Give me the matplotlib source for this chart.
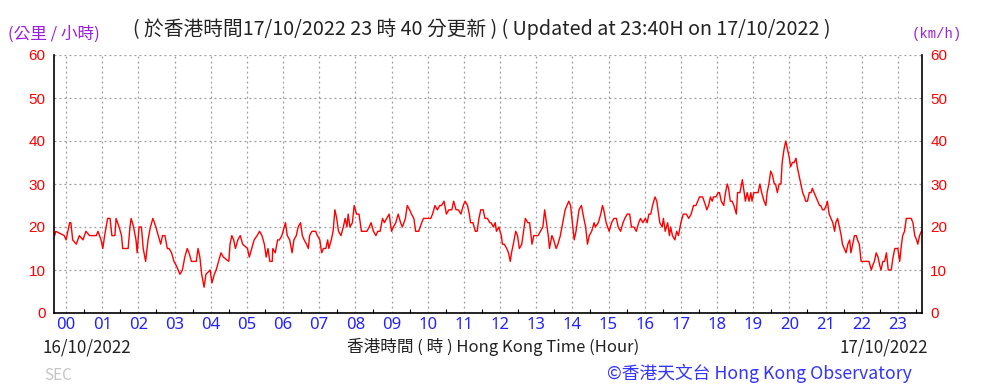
import matplotlib
matplotlib.use("Agg")
import numpy as np
import matplotlib.pyplot as plt
from matplotlib.ticker import MultipleLocator

# 10-min mean wind speed, minutes after 00:00 16/10/2022 (negative = 15/10)
minutes = [
    -20, -19, -17, -3, 0, 6, 8, 11, 17, 22, 28, 33, 39, 50, 53, 58, 61, 64, 69, 73,
    76, 81, 83, 88, 92, 94, 103, 106, 108, 112, 116, 118, 121, 125, 128, 132, 136, 140, 144, 149,
    153, 157, 160, 164, 168, 171, 175, 179, 183, 189, 193, 197, 201, 204, 208, 216, 219, 222, 225, 229,
    232, 239, 242, 246, 249, 253, 257, 261, 270, 272, 275, 278, 281, 285, 289, 293, 301, 304, 308, 312,
    317, 321, 325,
    329, 332, 335, 338, 342, 343, 347, 351, 354, 358, 362, 364, 367, 371, 375, 378, 382, 385, 389, 392,
    395, 399, 402, 404, 408, 414, 417, 421, 424, 427, 431, 434, 436, 440, 443, 446, 449, 452, 456, 460,
    463, 466, 468, 471, 475, 478, 482, 486, 490, 493, 499, 503, 506, 510, 514, 517, 521, 525, 528, 532,
    536, 540, 543, 547, 551, 555, 558, 563, 566, 570, 573, 577, 580, 585, 590, 593, 597, 605, 608, 612,
    616, 620, 623, 627, 631, 635, 640, 643, 647, 651, 655, 659, 662, 666, 669, 671, 675, 679, 682, 685,
    688, 692, 695, 699, 703,
    705, 709, 712, 714, 718, 722, 724, 727, 731, 734, 737, 739, 742, 746, 749, 752, 756, 759, 762, 766,
    769, 773, 776, 779, 783, 787, 791, 794, 797, 800, 802, 806, 809, 813, 816, 820, 824, 828, 831, 834,
    837, 840, 843, 846, 851, 855, 859, 862, 865, 868, 872, 876, 878, 883, 887, 890, 892, 896, 901, 905,
    909, 913, 916, 920, 924, 927, 931, 935, 938, 942, 946, 950, 953, 957, 961, 964, 967, 970, 973, 977,
    980, 983, 985, 989, 991, 994, 998, 1001, 1003, 1006, 1010, 1013, 1016, 1020, 1024, 1029, 1033, 1037, 1041, 1045,
    1051, 1056,
    1061, 1063, 1066, 1069, 1072, 1074, 1078, 1082, 1084, 1087, 1091, 1094, 1097, 1099, 1102, 1105, 1108, 1112, 1114, 1118,
    1122, 1124, 1127, 1130, 1133, 1136, 1138, 1141, 1145, 1148, 1151, 1154, 1158, 1161, 1163, 1166, 1169, 1172, 1175, 1177,
    1180, 1183, 1186, 1188, 1191, 1194, 1197, 1200, 1202, 1205, 1208, 1211, 1213, 1216, 1219, 1222, 1225, 1227, 1230, 1233,
    1236, 1238, 1241, 1244, 1247, 1250, 1252, 1255, 1258, 1261, 1263, 1266, 1269, 1272, 1275, 1277, 1280, 1283, 1286, 1288,
    1291, 1294, 1297, 1300, 1302, 1305, 1308, 1311, 1313, 1316, 1319, 1322, 1325, 1327, 1332, 1336, 1338, 1341, 1344, 1347,
    1350, 1352, 1355, 1358, 1361, 1364, 1366, 1369, 1372, 1375, 1377, 1380, 1383, 1386, 1388, 1391, 1394, 1397, 1400, 1402,
    1405, 1408, 1411, 1413, 1416, 1419,
]
speed = [
    18, 18, 19, 18, 17, 21, 21, 17, 16, 18, 17, 19, 18, 18, 19, 17, 15, 18, 22, 22,
    18, 18, 22, 20, 18, 15, 15, 20, 22, 20, 17, 14, 20, 20, 15, 12, 17, 20, 22, 20,
    18, 16, 18, 18, 15, 15, 14, 12, 11, 9, 10, 13, 15, 14, 12, 12, 15, 13, 9, 6,
    9, 10, 7, 9, 10, 12, 14, 13, 12, 16, 18, 17, 15, 17, 18, 16, 15, 13, 15, 17,
    18, 19, 18,
    16, 13, 15, 12, 12, 15, 14, 17, 17, 18, 20, 21, 18, 17, 14, 17, 18, 20, 21, 18,
    17, 16, 15, 18, 19, 19, 18, 17, 14, 15, 15, 17, 15, 17, 19, 24, 22, 19, 18, 20,
    22, 20, 23, 20, 21, 25, 23, 23, 19, 19, 19, 20, 21, 19, 18, 19, 19, 22, 21, 22,
    23, 19, 20, 21, 23, 21, 20, 22, 25, 24, 23, 22, 19, 19, 21, 22, 22, 22, 23, 25,
    24, 25, 25, 26, 23, 24, 24, 26, 24, 24, 23, 25, 26, 25, 23, 21, 21, 19, 19, 22,
    24, 24, 22, 22, 21,
    21, 20, 21, 19, 20, 18, 16, 16, 15, 14, 12, 14, 16, 19, 18, 15, 16, 19, 22, 21,
    21, 16, 18, 18, 18, 19, 20, 24, 21, 18, 15, 18, 17, 15, 16, 18, 21, 24, 25, 26,
    25, 21, 17, 19, 24, 25, 22, 20, 16, 18, 19, 21, 20, 21, 23, 25, 24, 21, 19, 21,
    22, 22, 20, 19, 21, 22, 23, 23, 20, 20, 19, 21, 22, 21, 22, 21, 23, 23, 25, 27,
    26, 23, 21, 20, 22, 19, 21, 18, 20, 18, 17, 19, 18, 21, 23, 23, 22, 23, 25, 25,
    27, 27,
    25, 24, 25, 27, 26, 27, 27, 28, 28, 26, 25, 28, 30, 29, 26, 26, 25, 23, 28, 28,
    31, 29, 26, 28, 26, 28, 26, 28, 28, 28, 30, 28, 26, 25, 28, 30, 33, 32, 30, 30,
    28, 30, 30, 35, 38, 40, 38, 36, 34, 35, 35, 36, 34, 32, 30, 28, 27, 26, 26, 28,
    28, 29, 28, 27, 26, 25, 25, 24, 24, 25, 26, 23, 22, 21, 19, 21, 22, 20, 18, 16,
    15, 14, 16, 17, 14, 16, 18, 18, 17, 16, 12, 12, 12, 12, 12, 10, 11, 12, 14, 13,
    11, 10, 12, 12, 14, 10, 10, 10, 13, 15, 15, 15, 12, 16, 18, 19, 22, 22, 22, 22,
    21, 18, 17, 16, 18, 19,
]
hour_labels = ["%02d" % h for h in range(24)]

W, H = 983, 388
fig = plt.figure(figsize=(W / 100, H / 100), dpi=100)

def fx(x):
    return x / W

def fy(y):
    return 1 - y / H

ax = fig.add_axes([fx(54), fy(313), fx(922) - fx(54), fy(55) - fy(313)])
ax.plot(np.array(minutes) / 60.0, speed, color="#ff0000", lw=1.0)

ax.set_xlim(-1 / 3, 23 + 2 / 3)
ax.set_ylim(0, 60)

ax.set_xticks(range(24))
ax.set_xticklabels(hour_labels)
ax.xaxis.set_minor_locator(MultipleLocator(0.5))
ax.tick_params(axis="x", which="major", length=0, pad=3, labelsize=12,
               labelcolor="#2323ff")
ax.tick_params(axis="x", which="minor", direction="in", length=3, width=0.8)
for lab in ax.get_xticklabels():
    lab.set_fontfamily(["Noto Sans", "DejaVu Sans"])

ax.set_yticks(range(0, 61, 10))
ax.tick_params(axis="y", length=0, pad=6, labelsize=11, labelcolor="#ff0000",
               left=True, right=True, labelleft=True, labelright=True)
for lab in ax.yaxis.get_ticklabels(which="major") + [t.label2 for t in ax.yaxis.get_major_ticks()]:
    lab.set_fontfamily(["Liberation Sans Narrow", "Liberation Sans", "DejaVu Sans"])

ax.grid(True, which="major", color="#9a9a9a", linestyle=(0, (1.5, 2.5)), lw=0.9)
ax.spines["top"].set_visible(False)
for s in ["left", "bottom", "right"]:
    ax.spines[s].set_color("black")
    ax.spines[s].set_linewidth(1.2)

cjk = ["Noto Sans CJK TC", "DejaVu Sans"]
fig.text(fx(133), fy(29), "( 於香港時間17/10/2022 23 時 40 分更新 ) ( Updated at 23:40H on 17/10/2022 )",
         family=cjk, fontsize=14.2, color="#222222", va="center", ha="left")
fig.text(fx(8), fy(34), "(公里 / 小時)", family=cjk, fontsize=12, color="#9a1ee0",
         va="center", ha="left")
fig.text(fx(912), fy(34), "(km/h)", family=["Liberation Mono", "DejaVu Sans Mono"],
         fontsize=10, color="#9a1ee0", va="center", ha="left")
fig.text(fx(42), fy(347), "16/10/2022", family=cjk, fontsize=12.2, color="#222222",
         va="center", ha="left")
fig.text(fx(928), fy(347), "17/10/2022", family=cjk, fontsize=12.2, color="#222222",
         va="center", ha="right")
fig.text(fx(493), fy(347), "香港時間 ( 時 ) Hong Kong Time (Hour)", family=cjk,
         fontsize=12, color="#222222", va="center", ha="center")
fig.text(fx(44), fy(376), "SEC", family=cjk, fontsize=11, color="#c4c4c4",
         va="center", ha="left")
fig.text(fx(912), fy(373), "©香港天文台 Hong Kong Observatory", family=cjk,
         fontsize=12.8, color="#3434ff", va="center", ha="right")

fig.savefig("out.png", dpi=100)
